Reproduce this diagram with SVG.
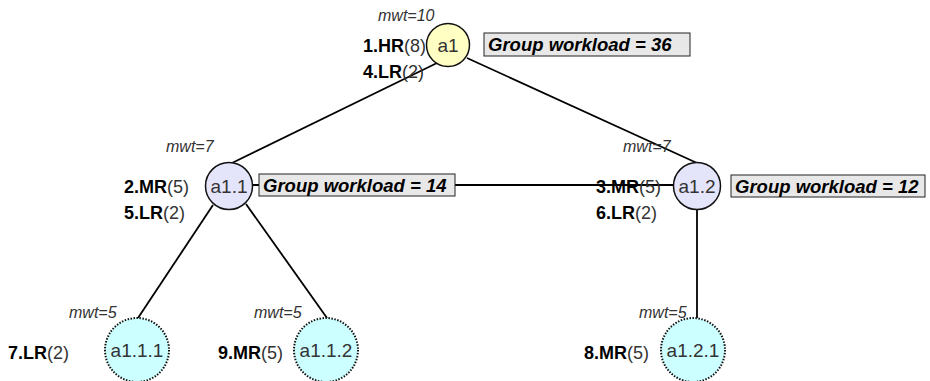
<svg xmlns="http://www.w3.org/2000/svg" width="930" height="381" viewBox="0 0 930 381">
  <style>
    text { font-family: "Liberation Sans", Arial, sans-serif; }
    .edge { stroke: #000; stroke-width: 1.8; fill: none; }
    .root { fill: #ffffc4; stroke: #111; stroke-width: 1.5; }
    .mid { fill: #e4e4fa; stroke: #111; stroke-width: 1.5; }
    .leaf { fill: #ccffff; stroke: #111; stroke-width: 2; stroke-dasharray: 1.5 1.5; }
    .name { font-size: 19px; fill: #333; text-anchor: middle; }
    .mwt { font-size: 16px; font-style: italic; fill: #333; }
    .task { font-size: 18px; fill: #333; }
    .task tspan.b { font-weight: bold; fill: #000; }
    .box { fill: #e8e8e8; stroke: #222; stroke-width: 1; }
    .wl { font-size: 18.5px; font-weight: bold; font-style: italic; fill: #000; }
  </style>

  <!-- tree edges and the peer link between the two middle agents -->
  <g id="connectors">
    <line class="edge" x1="437" y1="63" x2="232" y2="163"/>
    <line class="edge" x1="467" y1="58" x2="697" y2="163"/>
    <line class="edge" x1="252" y1="185" x2="675" y2="185"/>
    <line class="edge" x1="213" y1="205" x2="138" y2="318" stroke-width="1.5"/>
    <line class="edge" x1="246" y1="204" x2="327" y2="318"/>
    <line class="edge" x1="697" y1="209" x2="697" y2="318"/>
  </g>

  <g id="a1">
    <text class="mwt" x="378" y="21">mwt=10</text>
    <text class="task" x="363" y="52"><tspan class="b">1.HR</tspan>(8)</text>
    <text class="task" x="363" y="78"><tspan class="b">4.LR</tspan>(2)</text>
    <circle class="root" cx="448" cy="45" r="21.5"/>
    <text class="name" x="448" y="52">a1</text>
    <rect class="box" x="484" y="33" width="206" height="23"/>
    <text class="wl" x="488" y="51">Group workload = 36</text>
  </g>

  <g id="a1.1">
    <text class="mwt" x="166" y="152">mwt=7</text>
    <text class="task" x="124" y="193"><tspan class="b">2.MR</tspan>(5)</text>
    <text class="task" x="124" y="219"><tspan class="b">5.LR</tspan>(2)</text>
    <circle class="mid" cx="229" cy="186" r="23.5"/>
    <text class="name" x="229" y="193">a1.1</text>
    <rect class="box" x="259" y="174" width="196" height="22"/>
    <text class="wl" x="263" y="192">Group workload = 14</text>
  </g>

  <g id="a1.2">
    <text class="mwt" x="623" y="152">mwt=7</text>
    <text class="task" x="596" y="193"><tspan class="b">3.MR</tspan>(5)</text>
    <text class="task" x="596" y="219"><tspan class="b">6.LR</tspan>(2)</text>
    <circle class="mid" cx="697" cy="186" r="23.5"/>
    <text class="name" x="697" y="193">a1.2</text>
    <rect class="box" x="731" y="175" width="194" height="22"/>
    <text class="wl" x="735" y="193">Group workload = 12</text>
  </g>

  <g id="a1.1.1">
    <text class="mwt" x="69" y="318">mwt=5</text>
    <text class="task" x="8" y="359"><tspan class="b">7.LR</tspan>(2)</text>
    <circle class="leaf" cx="137" cy="350" r="32"/>
    <text class="name" x="137" y="357">a1.1.1</text>
  </g>

  <g id="a1.1.2">
    <text class="mwt" x="254" y="318">mwt=5</text>
    <text class="task" x="218" y="359"><tspan class="b">9.MR</tspan>(5)</text>
    <circle class="leaf" cx="326" cy="350" r="32"/>
    <text class="name" x="326" y="357">a1.1.2</text>
  </g>

  <g id="a1.2.1">
    <text class="mwt" x="639" y="318">mwt=5</text>
    <text class="task" x="584" y="359"><tspan class="b">8.MR</tspan>(5)</text>
    <circle class="leaf" cx="693" cy="350" r="32"/>
    <text class="name" x="693" y="357">a1.2.1</text>
  </g>
</svg>
